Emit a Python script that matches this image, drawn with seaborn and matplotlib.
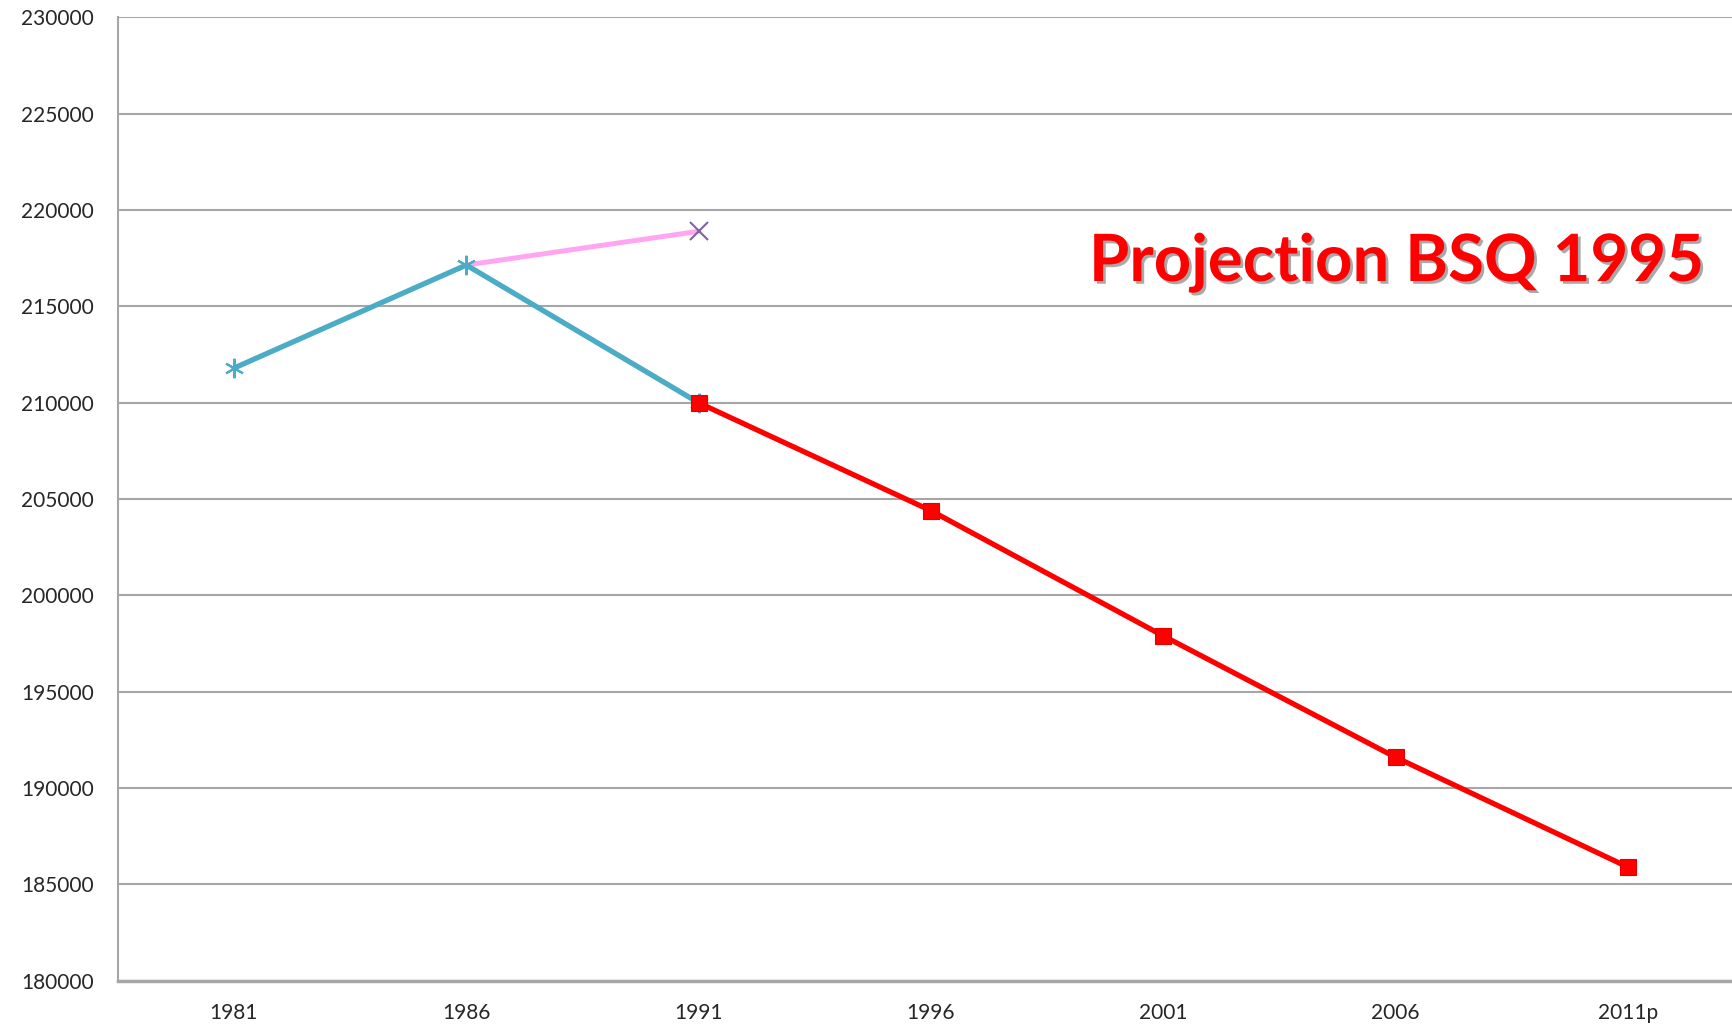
import pandas as pd
import matplotlib.pyplot as plt
import matplotlib.patheffects as pe
import seaborn as sns

# données
annees = ['1981', '1986', '1991', '1996', '2001', '2006', '2011p']
obs_annees = ['1981', '1986', '1991']
obs_valeurs = [211800, 217150, 210000]
ancien_annees = ['1986', '1991']
ancien_valeurs = [217150, 218900]
proj_annees = ['1991', '1996', '2001', '2006', '2011p']
proj_valeurs = [210000, 204400, 197900, 191600, 185900]
yticks = list(range(180000, 230001, 5000))

sns.set_style('white')
plt.rcParams['font.family'] = ['Lato', 'DejaVu Sans']

fig, ax = plt.subplots(figsize=(17.32, 10.27), dpi=100)
fig.subplots_adjust(left=0.068, right=1.007, top=0.983, bottom=0.045)

# fixe l'ordre des catégories
ax.plot(annees, [None] * len(annees), alpha=0)

sns.lineplot(x=ancien_annees, y=ancien_valeurs, ax=ax, color='#FFA6F2', linewidth=3.6,
             marker='x', markersize=13, markeredgecolor='#8064A2', markeredgewidth=1.5,
             markevery=[1], sort=False, zorder=3)
sns.lineplot(x=obs_annees, y=obs_valeurs, ax=ax, color='#4BACC6', linewidth=3.8,
             marker=(6, 2, 0), markersize=14, markeredgecolor='#4BACC6', markeredgewidth=1.5,
             sort=False, zorder=4)
sns.lineplot(x=proj_annees, y=proj_valeurs, ax=ax, color='#FF0000', linewidth=3.8,
             marker='s', markersize=12, markeredgecolor='#E00000', markeredgewidth=0.8,
             sort=False, zorder=5)

ax.set_xlim(-0.5, len(annees) - 0.5)
ax.set_ylim(180000, 230000)
ax.set_yticks(yticks)
ax.set_yticklabels([str(v) for v in yticks])
ax.yaxis.grid(True, color='#A6A6A6', linewidth=1.5)
ax.set_axisbelow(True)
ax.tick_params(axis='y', length=0, pad=17, labelsize=15)
ax.tick_params(axis='x', length=0, pad=16, labelsize=15)
ax.set_xlabel('')
ax.set_ylabel('')

for s in ['top', 'right']:
    ax.spines[s].set_visible(False)
ax.spines['left'].set_color('#A6A6A6')
ax.spines['left'].set_linewidth(1.5)
ax.spines['bottom'].set_color('#A6A6A6')
ax.spines['bottom'].set_linewidth(2.5)

ax.text(0.786, 0.745, 'Projection BSQ 1995', transform=ax.transAxes, ha='center', va='center',
        fontsize=47, fontweight='bold', color='#FF0000',
        path_effects=[pe.withSimplePatchShadow(offset=(2, -2), shadow_rgbFace='#555555', alpha=0.5)])

plt.savefig('out.png', dpi=100)
